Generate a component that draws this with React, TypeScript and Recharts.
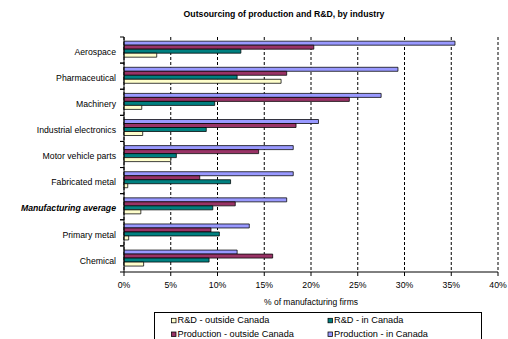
import React from 'react';
import { Bar, BarChart, CartesianGrid, XAxis, YAxis } from 'recharts';

const industries = [
  'Aerospace',
  'Pharmaceutical',
  'Machinery',
  'Industrial electronics',
  'Motor vehicle parts',
  'Fabricated metal',
  'Manufacturing average',
  'Primary metal',
  'Chemical',
];

// % of manufacturing firms, one value per industry above
const rdOutside = [3.5, 16.8, 1.9, 2.0, 5.0, 0.4, 1.8, 0.5, 2.1];
const rdInCanada = [12.5, 12.1, 9.7, 8.8, 5.6, 11.4, 9.5, 10.2, 9.1];
const prodOutside = [20.3, 17.4, 24.1, 18.4, 14.4, 8.1, 11.9, 9.3, 15.9];
const prodInCanada = [35.4, 29.3, 27.5, 20.8, 18.1, 18.1, 17.4, 13.4, 12.1];

const xTicks = [0, 5, 10, 15, 20, 25, 30, 35, 40];

const FONT = "'Liberation Sans', Arial, sans-serif";
const W = 508;
const H = 339;
const margin = { top: 37, right: 10, bottom: 34, left: 0 };
const X_AXIS_H = 33;
const Y_AXIS_W = 124;
const bandHeight = (H - margin.top - margin.bottom - X_AXIS_H) / industries.length;

const series = [
  { key: 'prodIn', name: 'Production - in Canada', color: '#9999FF' },
  { key: 'prodOut', name: 'Production - outside Canada', color: '#993366' },
  { key: 'rdIn', name: 'R&D - in Canada', color: '#008080' },
  { key: 'rdOut', name: 'R&D - outside Canada', color: '#FFFFCC' },
];

const chartData = industries.map((name, i) => ({
  name,
  prodIn: prodInCanada[i],
  prodOut: prodOutside[i],
  rdIn: rdInCanada[i],
  rdOut: rdOutside[i],
}));

// category labels, with Excel-style tick marks between the categories
const CategoryTick = (props: any) => {
  const { x, y, payload } = props;
  const axisX = x + 8;
  const highlight = payload.value === 'Manufacturing average';
  return (
    <g>
      <line x1={axisX - 4} x2={axisX} y1={y - bandHeight / 2} y2={y - bandHeight / 2} stroke="#000" />
      <line x1={axisX - 4} x2={axisX} y1={y + bandHeight / 2} y2={y + bandHeight / 2} stroke="#000" />
      <text
        x={x}
        y={y}
        dy={4.7}
        textAnchor="end"
        fontSize={8.7}
        fontFamily={FONT}
        fill="#000"
        fontWeight={highlight ? 'bold' : 'normal'}
        fontStyle={highlight ? 'italic' : 'normal'}
      >
        {payload.value}
      </text>
    </g>
  );
};

const legendRows = [
  [series[3], series[2]],
  [series[1], series[0]],
];

export default function App() {
  return (
    <div
      style={{
        position: 'absolute',
        left: 0,
        top: 0,
        width: W,
        height: H,
        overflow: 'hidden',
        background: '#fff',
        fontFamily: FONT,
      }}
    >
      <BarChart
        width={W}
        height={H}
        data={chartData}
        layout="vertical"
        margin={margin}
        barCategoryGap="16%"
        barGap={0}
      >
        <CartesianGrid horizontal={false} vertical stroke="#000" strokeDasharray="3 2" />
        <XAxis
          type="number"
          domain={[0, 40]}
          ticks={xTicks}
          interval={0}
          height={X_AXIS_H}
          tickFormatter={(v) => `${v}%`}
          tick={{ fontSize: 8.7, fill: '#000', fontFamily: FONT }}
          tickSize={4}
          tickMargin={6}
          axisLine={{ stroke: '#000' }}
          tickLine={{ stroke: '#000' }}
          label={{
            value: '% of manufacturing firms',
            position: 'insideBottom',
            offset: 0,
            fontSize: 8.5,
            fill: '#000',
            fontFamily: FONT,
          }}
        />
        <YAxis
          type="category"
          dataKey="name"
          width={Y_AXIS_W}
          interval={0}
          tickSize={0}
          tickMargin={8}
          tickLine={false}
          axisLine={{ stroke: '#000' }}
          tick={<CategoryTick />}
        />
        {series.map((s) => (
          <Bar
            key={s.key}
            dataKey={s.key}
            name={s.name}
            fill={s.color}
            stroke="#000"
            strokeWidth={0.75}
            isAnimationActive={false}
          />
        ))}
      </BarChart>
      <svg
        width={W}
        height={H}
        style={{ position: 'absolute', left: 0, top: 0, pointerEvents: 'none' }}
      >
        <text x={284} y={17.2} textAnchor="middle" fontSize={8.7} fontWeight="bold" fontFamily={FONT} fill="#000">
          Outsourcing of production and R&amp;D, by industry
        </text>
        <rect x={154.5} y={312.5} width={327} height={40} fill="#fff" stroke="#000" />
        {legendRows.map((row, r) =>
          row.map((s, c) => {
            const x0 = c === 0 ? 171.5 : 328;
            const baseline = r === 0 ? 323.3 : 337;
            return (
              <g key={s.key}>
                <rect x={x0} y={baseline - 5} width={4.5} height={4.5} fill={s.color} stroke="#000" strokeWidth={0.75} />
                <text x={x0 + 6} y={baseline} fontSize={9.2} fontFamily={FONT} fill="#000">
                  {s.name}
                </text>
              </g>
            );
          })
        )}
      </svg>
    </div>
  );
}
